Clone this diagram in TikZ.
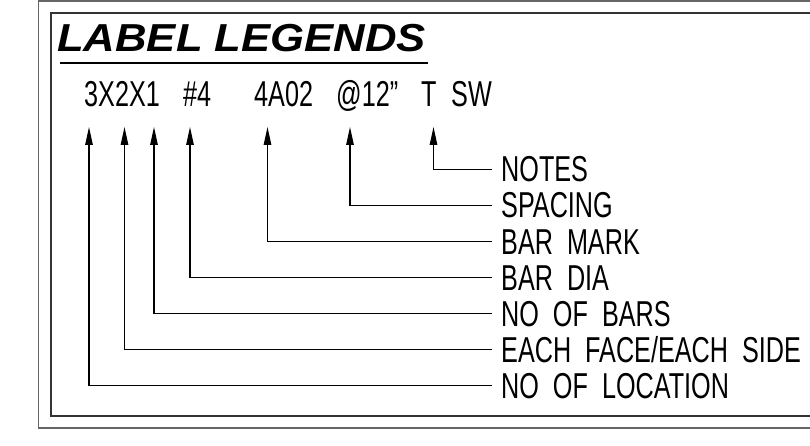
\documentclass[tikz,border=0pt]{standalone}
\usepackage{fontspec}
\usepackage{tikz}
\usetikzlibrary{arrows.meta}
\newfontfamily\cadfont[FakeStretch=0.70,WordSpace=2]{Liberation Sans}
\newfontfamily\headfont[FakeStretch=1.12]{Liberation Sans}
\begin{document}
\begin{tikzpicture}[x=1pt,y=-1pt,
  frm/.style={line width=1.5pt,draw=black!65},
  arr/.style={line width=1.2pt,-{Triangle[length=18pt,width=7.5pt]}},
  code/.style={font=\cadfont\fontsize{36}{38}\selectfont,inner sep=0pt,anchor=base west},
  lbl/.style={font=\cadfont\fontsize{36}{38}\selectfont,anchor=west,inner ysep=0pt,inner xsep=9pt,text height=25pt,text depth=0pt}]
\useasboundingbox (0,0) rectangle (810,446);
% frames
\draw[frm,draw=black!60] (38.5,0.8) rectangle (830,428);
\draw[frm,draw=black!80] (51,13) rectangle (830,416);
% heading
\node[anchor=base west,inner sep=0pt,font=\headfont\bfseries\itshape\fontsize{39}{42}\selectfont] (title) at (57,52) {LABEL LEGENDS};
\draw[line width=2.5pt] (60,63) -- (428,63);
% the label
\node[code] (qty) at (84,107) {3X2X1};
\node[code] (dia) at (183,107) {\#4};
\node[code] (mark) at (254,107) {4A02};
\node[code] (spc) at (336,107) {@12”};
\node[code] (t) at (421,107) {T};
\node[code] (sw) at (451,107) {SW};
\coordinate (a1) at (89,127); \coordinate (a2) at (124.5,127); \coordinate (a3) at (154,127);
\coordinate (a4) at (190,127); \coordinate (a5) at (267.5,127); \coordinate (a6) at (350,127);
\coordinate (a7) at (433.5,127);
% legends
\node[lbl] (notes) at (492,169.5) {NOTES};
\node[lbl] (spacing) at (492,205.5) {SPACING};
\node[lbl] (barmark) at (492,241.5) {BAR MARK};
\node[lbl] (bardia) at (492,277.5) {BAR DIA};
\node[lbl] (nobars) at (492,313.5) {NO OF BARS};
\node[lbl] (face) at (492,349.5) {EACH FACE/EACH SIDE};
\node[lbl] (noloc) at (492,385.5) {NO OF LOCATION};
\foreach \n/\a in {notes/a7,spacing/a6,barmark/a5,bardia/a4,nobars/a3,face/a2,noloc/a1}
  \draw[arr] (\n.west) -| (\a);
\end{tikzpicture}
\end{document}
